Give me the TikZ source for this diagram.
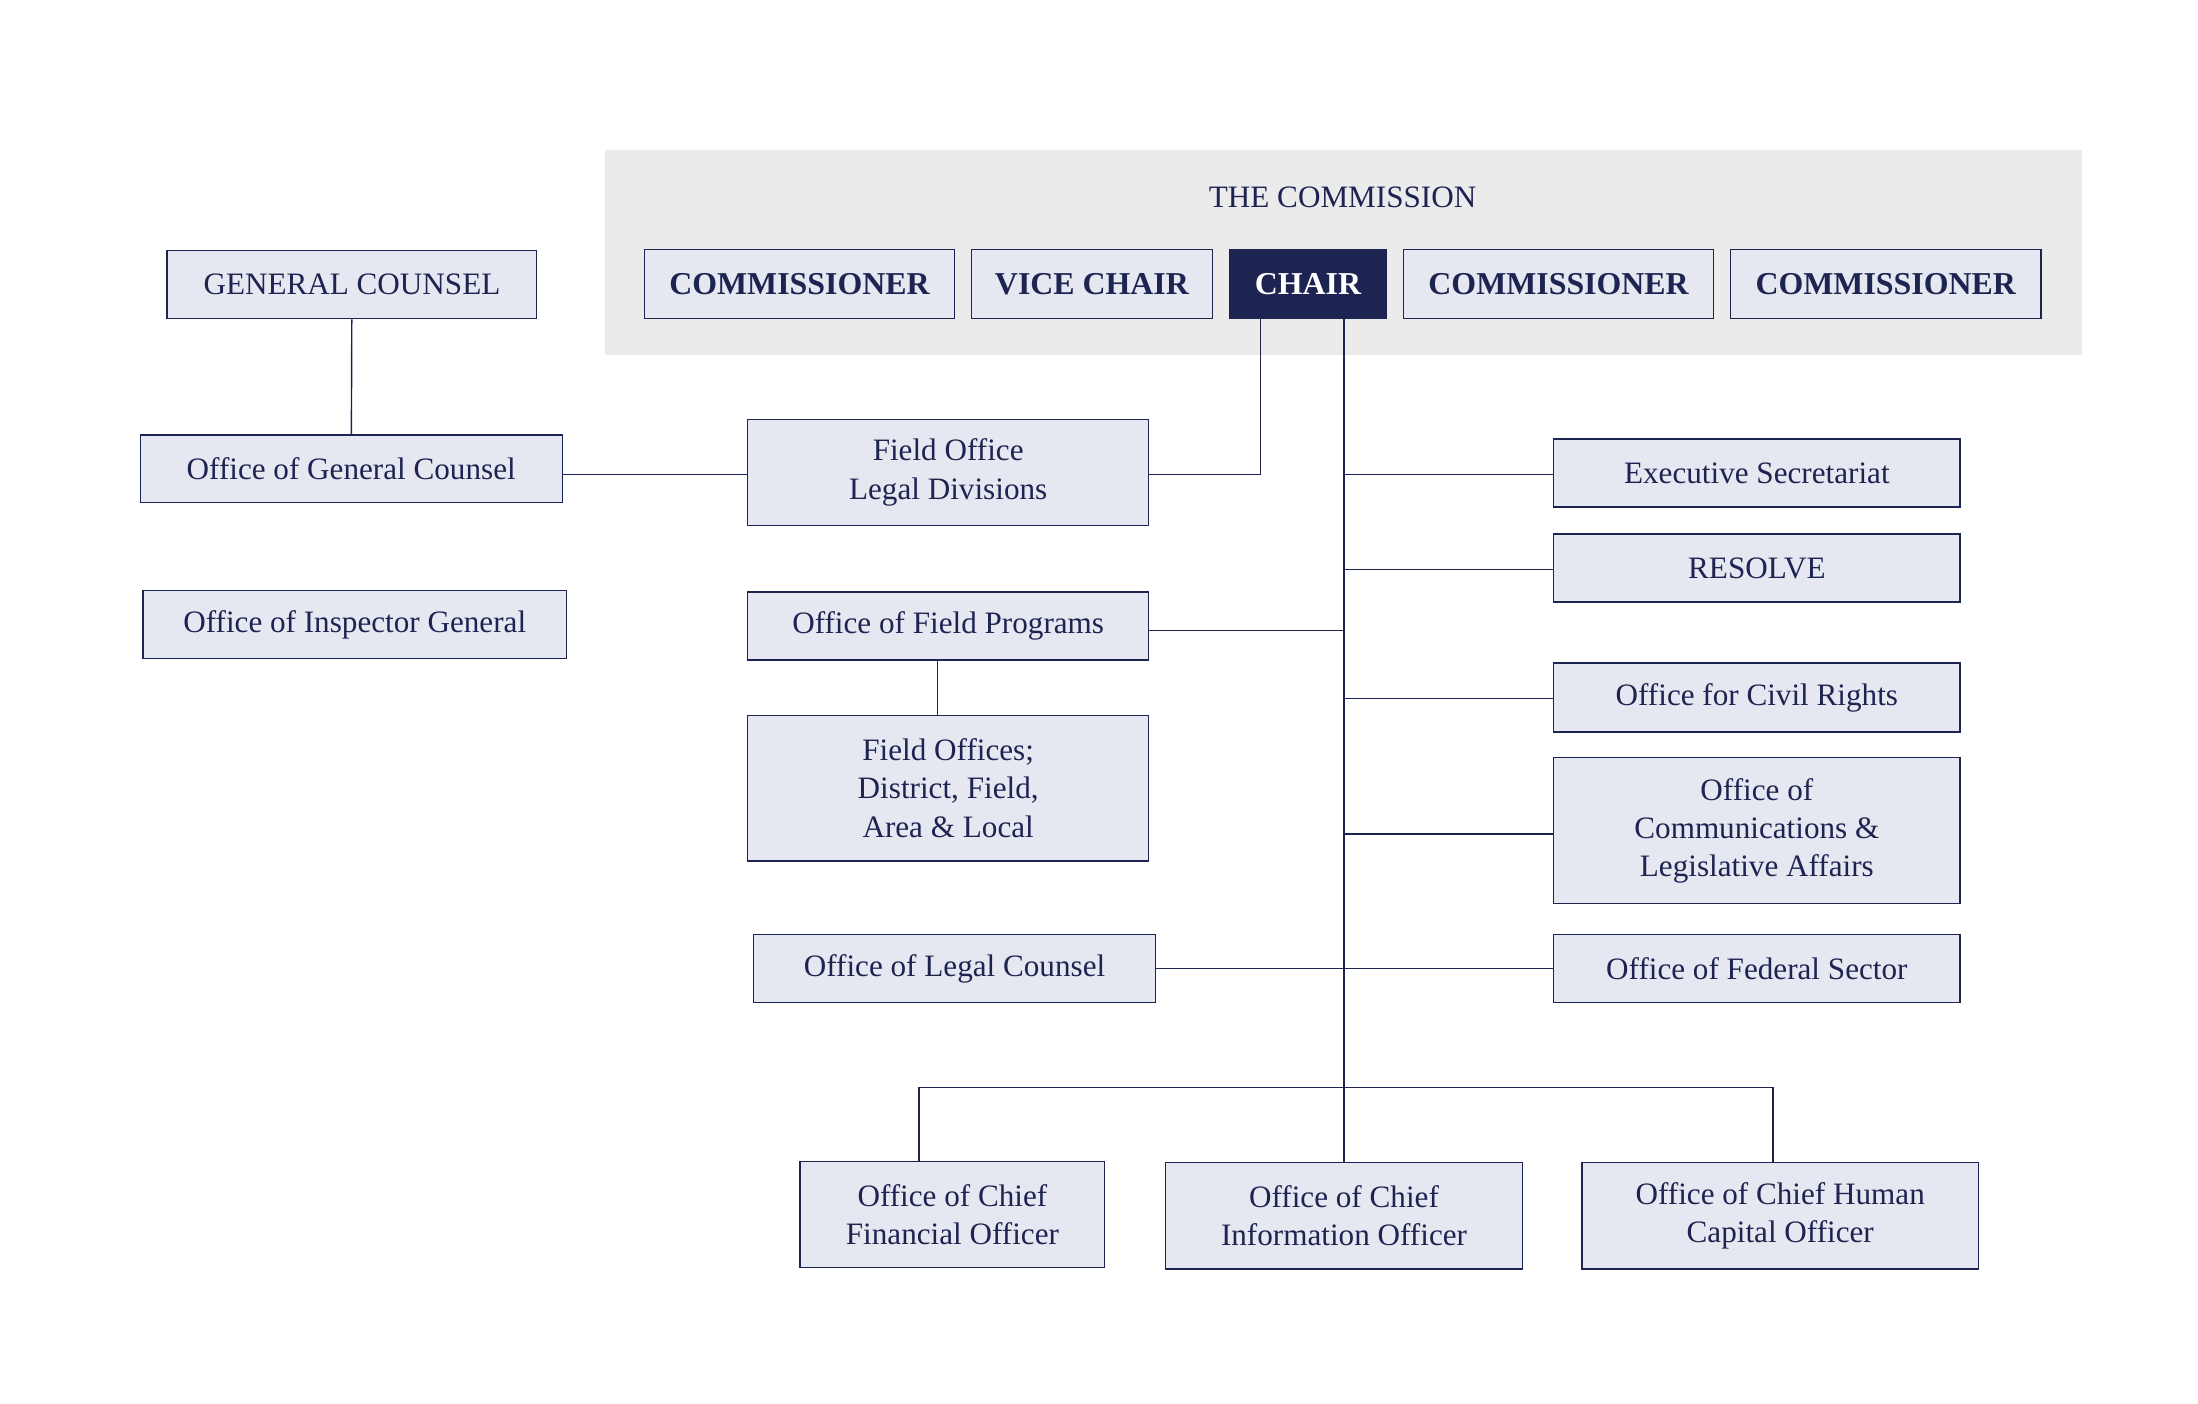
\documentclass[tikz,border=0pt]{standalone}
\usepackage{fontspec}
\setmainfont{Liberation Serif}
\begin{document}
\definecolor{navy}{HTML}{1E2452}
\definecolor{boxfill}{HTML}{E5E8F0}
\definecolor{bgc}{HTML}{EBEBEB}
\begin{tikzpicture}[x=1pt,y=-1pt,
  box/.style={draw=navy,fill=boxfill,line width=1pt,text=navy,align=center,inner sep=0pt,font=\fontsize{22}{27}\selectfont},
  bbox/.style={box,font=\fontsize{22.5}{27}\selectfont\bfseries},
  ln/.style={draw=navy,line width=1pt}]
\useasboundingbox (0,0) rectangle (1552,991);
\fill[bgc] (427,106) rectangle (1470,251);
\node[text=navy,font=\fontsize{22}{27}\selectfont] (tc) at (948,139) {THE COMMISSION};
\newcommand\bx[7][box]{\node[#1,minimum width=#4-#2,minimum height=#5-#3] (#6) at ({(#2+#4)/2},{(#3+#5)/2}) {#7};}
\bx[bbox]{455}{176}{674}{225}{c1}{COMMISSIONER}
\bx[bbox]{686}{176}{856}{225}{vc}{VICE CHAIR}
\bx[bbox,fill=navy,text=white]{868}{176}{979}{225}{ch}{CHAIR}
\bx[bbox]{991}{176}{1210}{225}{c2}{COMMISSIONER}
\bx[bbox]{1222}{176}{1441}{225}{c3}{COMMISSIONER}
\bx{118}{177}{379}{225}{gc}{GENERAL COUNSEL}
\bx{99}{307}{397}{355}{ogc}{Office of General Counsel}
\bx{101}{417}{400}{465}{oig}{Office of Inspector General}
\bx{528}{296}{811}{371}{fold}{Field Office\\Legal Divisions}
\bx{528}{418}{811}{466}{ofp}{Office of Field Programs}
\bx{528}{505}{811}{608}{fo}{Field Offices;\\District, Field,\\Area \& Local}
\bx{532}{660}{816}{708}{olc}{Office of Legal Counsel}
\bx{1097}{310}{1384}{358}{es}{Executive Secretariat}
\bx{1097}{377}{1384}{425}{res}{RESOLVE}
\bx{1097}{468}{1384}{517}{ocr}{Office for Civil Rights}
\bx{1097}{535}{1384}{638}{ocla}{Office of\\Communications \&\\Legislative Affairs}
\bx{1097}{660}{1384}{708}{ofs}{Office of Federal Sector}
\bx{565}{820}{780}{895}{cfo}{Office of Chief\\Financial Officer}
\bx{823}{821}{1075}{896}{cio}{Office of Chief\\Information Officer}
\bx{1117}{821}{1397}{896}{chco}{Office of Chief Human\\Capital Officer}
\path (949,335) coordinate (j1) (949,402) coordinate (j2) (949,445) coordinate (j3)
 (949,493) coordinate (j4) (949,589) coordinate (j5) (949,768) coordinate (j6)
 (649,768) coordinate (jl) (1252,768) coordinate (jr) (890,335) coordinate (k);
\draw[ln] (gc) -- (ogc);
\draw[ln] (ogc.east |- k) -- (fold.west |- k);
\draw[ln] (fold.east |- k) -- (k) -- (ch.south -| k);
\draw[ln] (ch.south -| j1) -- (cio.north);
\draw[ln] (j1) -- (es.west |- j1);
\draw[ln] (j2) -- (res.west |- j2);
\draw[ln] (j3) -- (ofp.east |- j3);
\draw[ln] (j4) -- (ocr.west |- j4);
\draw[ln] (j5) -- (ocla.west |- j5);
\draw[ln] (olc.east) -- (ofs.west);
\draw[ln] (ofp.south -| 662,0) -- (fo.north -| 662,0);
\draw[ln] (cfo.north -| jl) -- (jl) -- (jr) -- (chco.north -| jr);
\end{tikzpicture}
\end{document}
